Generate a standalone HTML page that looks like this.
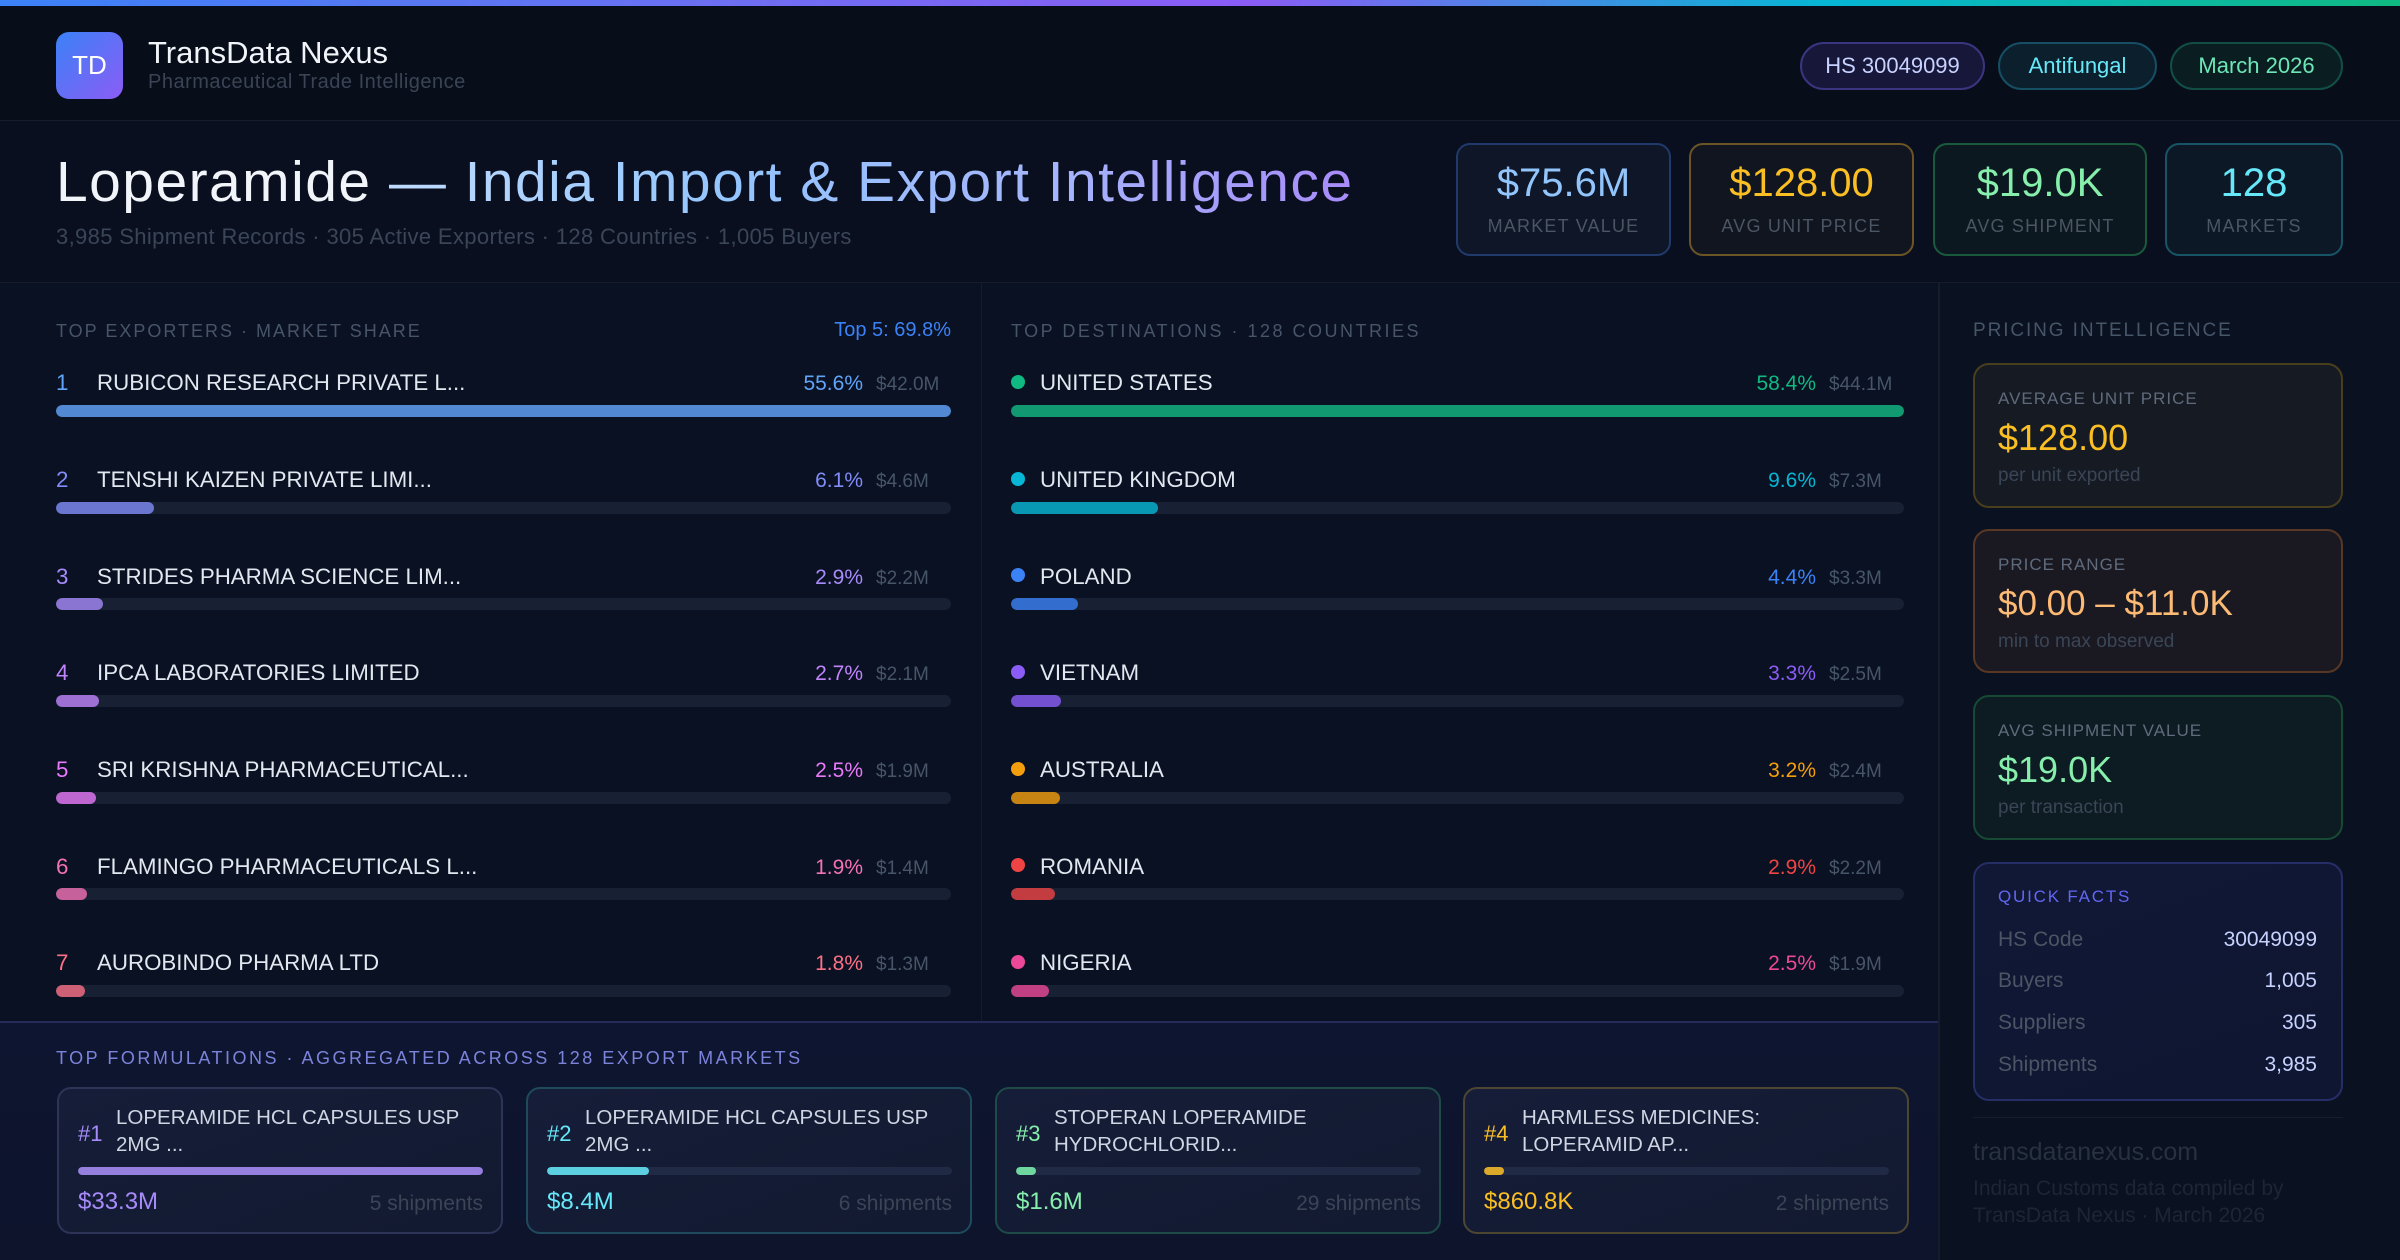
<!DOCTYPE html>
<html><head><meta charset="utf-8">
<style>
*{margin:0;padding:0;box-sizing:border-box}
html,body{width:2400px;height:1260px;overflow:hidden;background:#0a1020;font-family:"Liberation Sans",Arial,sans-serif}
.a{position:absolute}
.t{position:absolute;line-height:1;white-space:nowrap}
.hdr{left:0;top:0;width:2400px;height:121px;background:#080d1a;border-bottom:1px solid #151d2c}
.topbar{left:0;top:0;width:2400px;height:6px;background:linear-gradient(90deg,#3b82f6 0%,#6d6ff3 30%,#8b5cf6 52%,#06b6d4 76%,#10b981 100%)}
.logo{left:56px;top:32px;width:67px;height:67px;border-radius:13px;background:linear-gradient(135deg,#3b82f6,#8b5cf6);color:#fff;font-size:26px;display:flex;align-items:center;justify-content:center}
.chip{top:42px;height:48px;border-radius:24px;border:2px solid;display:flex;align-items:center;justify-content:center;font-size:22px}
.hero{left:0;top:121px;width:2400px;height:162px;background:#0a0f1f;border-bottom:1px solid #141b2a}
.kpi{top:143px;height:113px;border-radius:14px;border:2px solid}
.kpi .v{position:absolute;left:0;width:100%;text-align:center;top:18px;font-size:40px;line-height:1}
.kpi .l{position:absolute;left:0;width:100%;text-align:center;top:72px;font-size:18px;line-height:1;letter-spacing:1.2px;color:#4b5563}
.sec{font-size:18px;letter-spacing:2px;color:#475569}
.name{font-size:22.3px;color:#e2e8f0}
.pct{font-size:21px;text-align:right;width:110px}
.val{font-size:19px;color:#475569}
.track{height:12px;border-radius:6px;background:#182033;overflow:hidden}
.fill{height:12px;border-radius:6px;opacity:.8}
.dot{width:14px;height:14px;border-radius:50%}
.sc{left:1973px;width:370px;border-radius:16px;border:2px solid}
.sc .l{position:absolute;left:23px;top:25px;font-size:17px;line-height:1;letter-spacing:1px;color:#5f6b7d;white-space:nowrap}
.sc .v{position:absolute;left:23px;top:55px;font-size:36px;line-height:1;white-space:nowrap}
.sc .s{position:absolute;left:23px;top:101px;font-size:19px;line-height:1;color:#3a4556;white-space:nowrap}
.qf .r{position:absolute;left:23px;right:24px;font-size:21px;line-height:1;display:flex;justify-content:space-between}
.qf .r span:first-child{color:#4b5563}
.qf .r span:last-child{color:#c7d2fe}
.fc{top:1087px;width:446px;height:147px;border-radius:14px;border:2px solid;background:linear-gradient(160deg,#161d38,#121a31)}
.fc .n{position:absolute;left:19px;top:34px;font-size:22px;line-height:1}
.fc .nm{position:absolute;left:57px;top:15px;font-size:20.5px;line-height:27px;color:#cfd5e3;white-space:nowrap}
.fc .bt{position:absolute;left:19px;top:78px;width:405px;height:8px;border-radius:4px;background:#212a44;overflow:hidden}
.fc .bf{height:8px;border-radius:4px}
.fc .fv{position:absolute;left:19px;top:101px;font-size:24px;line-height:1}
.fc .sh{position:absolute;right:18px;top:104px;font-size:21px;line-height:1;color:#3a4556}
</style></head><body>

<div class="a hdr"></div>
<div class="a topbar"></div>
<div class="a logo">TD</div>
<div class="t" style="left:148px;top:37px;font-size:31px;color:#f1f5f9">TransData Nexus</div>
<div class="t" style="left:148px;top:72px;font-size:20px;letter-spacing:0.5px;color:#3a4455">Pharmaceutical Trade Intelligence</div>

<div class="a chip" style="left:1800px;width:185px;background:#17173a;border-color:#3b3580;color:#c7d2fe">HS 30049099</div>
<div class="a chip" style="left:1998px;width:159px;background:#0b1f2c;border-color:#164e63;color:#67e8f9">Antifungal</div>
<div class="a chip" style="left:2170px;width:173px;background:#0a1e22;border-color:#134e44;color:#6ee7b7">March 2026</div>

<div class="a hero"></div>
<div class="t" style="left:56px;top:154px;font-size:57px;letter-spacing:1.45px;color:#f1f5f9">Loperamide <span style="background:linear-gradient(90deg,#bfdbfe 0%,#93c5fd 35%,#a5b4fc 70%,#a78bfa 100%);-webkit-background-clip:text;background-clip:text;color:transparent">— India Import &amp; Export Intelligence</span></div>
<div class="t" style="left:56px;top:226px;font-size:22px;letter-spacing:0.35px;color:#3a4658">3,985 Shipment Records · 305 Active Exporters · 128 Countries · 1,005 Buyers</div>

<div class="a kpi" style="left:1456px;width:215px;background:#0e1628;border-color:#1f3a6b"><div class="v" style="color:#93c5fd">$75.6M</div><div class="l">MARKET VALUE</div></div>
<div class="a kpi" style="left:1689px;width:225px;background:#11151f;border-color:#6b5524"><div class="v" style="color:#fbbf24">$128.00</div><div class="l">AVG UNIT PRICE</div></div>
<div class="a kpi" style="left:1933px;width:214px;background:#0c1820;border-color:#1a5a3c"><div class="v" style="color:#86efac">$19.0K</div><div class="l">AVG SHIPMENT</div></div>
<div class="a kpi" style="left:2165px;width:178px;background:#0c1826;border-color:#175566"><div class="v" style="color:#67e8f9">128</div><div class="l">MARKETS</div></div>

<!-- main -->
<div class="a" style="left:0;top:283px;width:1938px;height:738px;background:#0a1122"></div>
<div class="a" style="left:981px;top:283px;width:1px;height:738px;background:#141c2c"></div>
<div class="a" style="left:1938px;top:283px;width:462px;height:977px;background:#0a1120;border-left:2px solid #151d2d"></div>

<div class="t sec" style="left:56px;top:322px">TOP EXPORTERS · MARKET SHARE</div>
<div class="t" style="left:831px;top:320px;width:120px;text-align:right;font-size:20px;color:#3b82f6">Top 5: 69.8%</div>
<div class="t sec" style="left:1011px;top:322px;letter-spacing:2.5px">TOP DESTINATIONS · 128 COUNTRIES</div>

<!-- exporters -->
<div class="t name" style="left:56px;top:372px;color:#60a5fa">1</div><div class="t name" style="left:97px;top:372px">RUBICON RESEARCH PRIVATE L...</div><div class="t pct" style="left:753px;top:373px;color:#60a5fa">55.6%</div><div class="t val" style="left:876px;top:375px">$42.0M</div>
<div class="a track" style="left:56px;top:405px;width:895px"><div class="fill" style="width:895px;background:#60a5fa"></div></div>

<div class="t name" style="left:56px;top:469px;color:#818cf8">2</div><div class="t name" style="left:97px;top:469px">TENSHI KAIZEN PRIVATE LIMI...</div><div class="t pct" style="left:753px;top:470px;color:#818cf8">6.1%</div><div class="t val" style="left:876px;top:472px">$4.6M</div>
<div class="a track" style="left:56px;top:502px;width:895px"><div class="fill" style="width:98px;background:#818cf8"></div></div>

<div class="t name" style="left:56px;top:566px;color:#a78bfa">3</div><div class="t name" style="left:97px;top:566px">STRIDES PHARMA SCIENCE LIM...</div><div class="t pct" style="left:753px;top:567px;color:#a78bfa">2.9%</div><div class="t val" style="left:876px;top:569px">$2.2M</div>
<div class="a track" style="left:56px;top:598px;width:895px"><div class="fill" style="width:47px;background:#a78bfa"></div></div>

<div class="t name" style="left:56px;top:662px;color:#c084fc">4</div><div class="t name" style="left:97px;top:662px">IPCA LABORATORIES LIMITED</div><div class="t pct" style="left:753px;top:663px;color:#c084fc">2.7%</div><div class="t val" style="left:876px;top:665px">$2.1M</div>
<div class="a track" style="left:56px;top:695px;width:895px"><div class="fill" style="width:43px;background:#c084fc"></div></div>

<div class="t name" style="left:56px;top:759px;color:#e879f9">5</div><div class="t name" style="left:97px;top:759px">SRI KRISHNA PHARMACEUTICAL...</div><div class="t pct" style="left:753px;top:760px;color:#e879f9">2.5%</div><div class="t val" style="left:876px;top:762px">$1.9M</div>
<div class="a track" style="left:56px;top:792px;width:895px"><div class="fill" style="width:40px;background:#e879f9"></div></div>

<div class="t name" style="left:56px;top:856px;color:#f472b6">6</div><div class="t name" style="left:97px;top:856px">FLAMINGO PHARMACEUTICALS L...</div><div class="t pct" style="left:753px;top:857px;color:#f472b6">1.9%</div><div class="t val" style="left:876px;top:859px">$1.4M</div>
<div class="a track" style="left:56px;top:888px;width:895px"><div class="fill" style="width:31px;background:#f472b6"></div></div>

<div class="t name" style="left:56px;top:952px;color:#fb7185">7</div><div class="t name" style="left:97px;top:952px">AUROBINDO PHARMA LTD</div><div class="t pct" style="left:753px;top:953px;color:#fb7185">1.8%</div><div class="t val" style="left:876px;top:955px">$1.3M</div>
<div class="a track" style="left:56px;top:985px;width:895px"><div class="fill" style="width:29px;background:#fb7185"></div></div>

<!-- destinations -->
<div class="a dot" style="left:1011px;top:375px;background:#10b981"></div><div class="t name" style="left:1040px;top:372px">UNITED STATES</div><div class="t pct" style="left:1706px;top:373px;color:#10b981">58.4%</div><div class="t val" style="left:1829px;top:375px">$44.1M</div>
<div class="a track" style="left:1011px;top:405px;width:893px"><div class="fill" style="width:893px;background:#10b981"></div></div>

<div class="a dot" style="left:1011px;top:472px;background:#06b6d4"></div><div class="t name" style="left:1040px;top:469px">UNITED KINGDOM</div><div class="t pct" style="left:1706px;top:470px;color:#06b6d4">9.6%</div><div class="t val" style="left:1829px;top:472px">$7.3M</div>
<div class="a track" style="left:1011px;top:502px;width:893px"><div class="fill" style="width:147px;background:#06b6d4"></div></div>

<div class="a dot" style="left:1011px;top:568px;background:#3b82f6"></div><div class="t name" style="left:1040px;top:566px">POLAND</div><div class="t pct" style="left:1706px;top:567px;color:#3b82f6">4.4%</div><div class="t val" style="left:1829px;top:569px">$3.3M</div>
<div class="a track" style="left:1011px;top:598px;width:893px"><div class="fill" style="width:67px;background:#3b82f6"></div></div>

<div class="a dot" style="left:1011px;top:665px;background:#8b5cf6"></div><div class="t name" style="left:1040px;top:662px">VIETNAM</div><div class="t pct" style="left:1706px;top:663px;color:#8b5cf6">3.3%</div><div class="t val" style="left:1829px;top:665px">$2.5M</div>
<div class="a track" style="left:1011px;top:695px;width:893px"><div class="fill" style="width:50px;background:#8b5cf6"></div></div>

<div class="a dot" style="left:1011px;top:762px;background:#f59e0b"></div><div class="t name" style="left:1040px;top:759px">AUSTRALIA</div><div class="t pct" style="left:1706px;top:760px;color:#f59e0b">3.2%</div><div class="t val" style="left:1829px;top:762px">$2.4M</div>
<div class="a track" style="left:1011px;top:792px;width:893px"><div class="fill" style="width:49px;background:#f59e0b"></div></div>

<div class="a dot" style="left:1011px;top:858px;background:#ef4444"></div><div class="t name" style="left:1040px;top:856px">ROMANIA</div><div class="t pct" style="left:1706px;top:857px;color:#ef4444">2.9%</div><div class="t val" style="left:1829px;top:859px">$2.2M</div>
<div class="a track" style="left:1011px;top:888px;width:893px"><div class="fill" style="width:44px;background:#ef4444"></div></div>

<div class="a dot" style="left:1011px;top:955px;background:#ec4899"></div><div class="t name" style="left:1040px;top:952px">NIGERIA</div><div class="t pct" style="left:1706px;top:953px;color:#ec4899">2.5%</div><div class="t val" style="left:1829px;top:955px">$1.9M</div>
<div class="a track" style="left:1011px;top:985px;width:893px"><div class="fill" style="width:38px;background:#ec4899"></div></div>

<!-- sidebar -->
<div class="t" style="left:1973px;top:321px;font-size:19px;letter-spacing:1.9px;color:#475569">PRICING INTELLIGENCE</div>
<div class="a sc" style="top:363px;height:145px;background:#161a22;border-color:#4a3f1c"><div class="l">AVERAGE UNIT PRICE</div><div class="v" style="color:#fbbf24">$128.00</div><div class="s">per unit exported</div></div>
<div class="a sc" style="top:529px;height:144px;background:#1a1922;border-color:#583824"><div class="l">PRICE RANGE</div><div class="v" style="color:#fdba74;font-size:35px">$0.00 – $11.0K</div><div class="s">min to max observed</div></div>
<div class="a sc" style="top:695px;height:145px;background:#0c1c22;border-color:#174a34"><div class="l">AVG SHIPMENT VALUE</div><div class="v" style="color:#86efac">$19.0K</div><div class="s">per transaction</div></div>

<div class="a sc qf" style="top:862px;height:239px;background:linear-gradient(160deg,#101836,#0e1631);border-color:#262e68">
<div class="t" style="left:23px;top:24px;font-size:17px;letter-spacing:1.8px;color:#6366f1">QUICK FACTS</div>
<div class="r" style="top:65px"><span>HS Code</span><span>30049099</span></div>
<div class="r" style="top:106px"><span>Buyers</span><span>1,005</span></div>
<div class="r" style="top:148px"><span>Suppliers</span><span>305</span></div>
<div class="r" style="top:190px"><span>Shipments</span><span>3,985</span></div>
</div>
<div class="a" style="left:1973px;top:1117px;width:370px;height:1px;background:#161e2c"></div>
<div class="t" style="left:1973px;top:1140px;font-size:25px;color:#283142">transdatanexus.com</div>
<div class="t" style="left:1973px;top:1178px;font-size:21px;color:#1e2634">Indian Customs data compiled by</div>
<div class="t" style="left:1973px;top:1205px;font-size:21px;color:#1e2634">TransData Nexus · March 2026</div>

<!-- formulations -->
<div class="a" style="left:0;top:1021px;width:1938px;height:239px;background:linear-gradient(180deg,#0e1530,#0d142c);border-top:2px solid #242b5a"></div>
<div class="t" style="left:56px;top:1049px;font-size:18px;letter-spacing:2.5px;color:#7c83db">TOP FORMULATIONS · AGGREGATED ACROSS 128 EXPORT MARKETS</div>

<div class="a fc" style="left:57px;border-color:#2e3458"><div class="n" style="color:#a78bfa">#1</div><div class="nm">LOPERAMIDE HCL CAPSULES USP<br>2MG ...</div><div class="bt"><div class="bf" style="width:405px;background:#9580e0"></div></div><div class="fv" style="color:#a78bfa">$33.3M</div><div class="sh">5 shipments</div></div>
<div class="a fc" style="left:526px;border-color:#1f4a5c"><div class="n" style="color:#67e8f9">#2</div><div class="nm">LOPERAMIDE HCL CAPSULES USP<br>2MG ...</div><div class="bt"><div class="bf" style="width:102px;background:#5ccfe0"></div></div><div class="fv" style="color:#67e8f9">$8.4M</div><div class="sh">6 shipments</div></div>
<div class="a fc" style="left:995px;border-color:#1e4a48"><div class="n" style="color:#86efac">#3</div><div class="nm">STOPERAN LOPERAMIDE<br>HYDROCHLORID...</div><div class="bt"><div class="bf" style="width:20px;background:#6fd6a0"></div></div><div class="fv" style="color:#86efac">$1.6M</div><div class="sh">29 shipments</div></div>
<div class="a fc" style="left:1463px;border-color:#4d4630"><div class="n" style="color:#fbbf24">#4</div><div class="nm">HARMLESS MEDICINES:<br>LOPERAMID AP...</div><div class="bt"><div class="bf" style="width:20px;background:#dcaa2a"></div></div><div class="fv" style="color:#fbbf24">$860.8K</div><div class="sh">2 shipments</div></div>

</body></html>
